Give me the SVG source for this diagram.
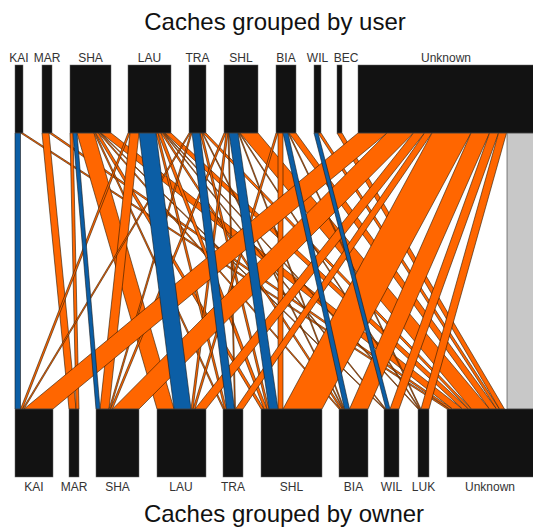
<svg xmlns="http://www.w3.org/2000/svg" width="533" height="527" viewBox="0 0 533 527">
<style>
.o{fill:#FF6600;stroke:#2a1800;stroke-width:0.6}
.b{fill:#0C5EA5;stroke:#1a1a1a;stroke-width:0.6}
.g{fill:#C8C8C8;stroke:#333;stroke-width:0.6}
.bar{fill:#121212;stroke:#666;stroke-width:0.5}
.lbl{font-family:"Liberation Sans",Arial,sans-serif;font-size:12px;fill:#333;text-anchor:middle}
.ttl{font-family:"Liberation Sans",Arial,sans-serif;font-size:24px;fill:#111;text-anchor:middle}
</style>
<rect width="533" height="527" fill="#fff"/>
<text class="ttl" x="275" y="30">Caches grouped by user</text>
<text class="ttl" x="284" y="522">Caches grouped by owner</text>
<g id="connectors">
<polygon class="g" points="507,133 536,133 536,409 507,409"/>
<polygon class="o" points="20.5,133 23,133 449.5,409 447,409"/>
<polygon class="o" points="42,133 49,133 76,409 69,409"/>
<polygon class="o" points="49,133 52,133 452.5,409 449.5,409"/>
<polygon class="o" points="70,133 73,133 79,409 76,409"/>
<polygon class="o" points="77,133 94,133 174,409 157,409"/>
<polygon class="o" points="94,133 95.5,133 224.5,409 223,409"/>
<polygon class="o" points="95.5,133 98.5,133 264,409 261,409"/>
<polygon class="o" points="98.5,133 100,133 340.5,409 339,409"/>
<polygon class="o" points="100,133 101,133 385,409 384,409"/>
<polygon class="o" points="101,133 111,133 462.5,409 452.5,409"/>
<polygon class="o" points="128,133 130,133 22.5,409 20.5,409"/>
<polygon class="o" points="130,133 139,133 109,409 100,409"/>
<polygon class="o" points="156,133 158,133 226.5,409 224.5,409"/>
<polygon class="o" points="158,133 161,133 267,409 264,409"/>
<polygon class="o" points="161,133 163,133 342.5,409 340.5,409"/>
<polygon class="o" points="163,133 164,133 386,409 385,409"/>
<polygon class="o" points="164,133 165,133 419,409 418,409"/>
<polygon class="o" points="165,133 171,133 468.5,409 462.5,409"/>
<polygon class="o" points="189,133 190.5,133 24,409 22.5,409"/>
<polygon class="o" points="190.5,133 192,133 110.5,409 109,409"/>
<polygon class="o" points="200,133 202,133 269,409 267,409"/>
<polygon class="o" points="202,133 203,133 343.5,409 342.5,409"/>
<polygon class="o" points="203,133 206,133 471.5,409 468.5,409"/>
<polygon class="o" points="224,133 226,133 112.5,409 110.5,409"/>
<polygon class="o" points="226,133 228,133 193,409 191,409"/>
<polygon class="o" points="228,133 229,133 235.5,409 234.5,409"/>
<polygon class="o" points="238,133 239,133 344.5,409 343.5,409"/>
<polygon class="o" points="239,133 240,133 420,409 419,409"/>
<polygon class="o" points="240,133 258,133 489.5,409 471.5,409"/>
<polygon class="o" points="276,133 278,133 195,409 193,409"/>
<polygon class="o" points="278,133 283,133 283,409 278,409"/>
<polygon class="o" points="288,133 289,133 421,409 420,409"/>
<polygon class="o" points="289,133 296,133 496.5,409 489.5,409"/>
<polygon class="o" points="318,133 321,133 499.5,409 496.5,409"/>
<polygon class="o" points="337,133 342,133 504.5,409 499.5,409"/>
<polygon class="o" points="358,133 387,133 53,409 24,409"/>
<polygon class="o" points="387,133 413.5,133 139,409 112.5,409"/>
<polygon class="o" points="413.5,133 424.5,133 206,409 195,409"/>
<polygon class="o" points="424.5,133 432,133 243,409 235.5,409"/>
<polygon class="o" points="432,133 471,133 322,409 283,409"/>
<polygon class="o" points="471,133 489.5,133 368,409 349.5,409"/>
<polygon class="o" points="489.5,133 498.5,133 399,409 390,409"/>
<polygon class="o" points="498.5,133 506.5,133 429,409 421,409"/>
<polygon class="b" points="15,133 20.5,133 20.5,409 15,409"/>
<polygon class="b" points="73,133 77,133 100,409 96,409"/>
<polygon class="b" points="139,133 156,133 191,409 174,409"/>
<polygon class="b" points="192,133 200,133 234.5,409 226.5,409"/>
<polygon class="b" points="229,133 238,133 278,409 269,409"/>
<polygon class="b" points="283,133 288,133 349.5,409 344.5,409"/>
<polygon class="b" points="314,133 318,133 390,409 386,409"/>
</g>
<g id="top-KAI"><rect class="bar" x="15" y="65" width="8" height="68"/><text class="lbl" x="19" y="62">KAI</text></g>
<g id="top-MAR"><rect class="bar" x="42" y="65" width="10" height="68"/><text class="lbl" x="47" y="62">MAR</text></g>
<g id="top-SHA"><rect class="bar" x="70" y="65" width="41" height="68"/><text class="lbl" x="90.5" y="62">SHA</text></g>
<g id="top-LAU"><rect class="bar" x="128" y="65" width="43" height="68"/><text class="lbl" x="149.5" y="62">LAU</text></g>
<g id="top-TRA"><rect class="bar" x="189" y="65" width="17" height="68"/><text class="lbl" x="197.5" y="62">TRA</text></g>
<g id="top-SHL"><rect class="bar" x="224" y="65" width="34" height="68"/><text class="lbl" x="241" y="62">SHL</text></g>
<g id="top-BIA"><rect class="bar" x="276" y="65" width="20" height="68"/><text class="lbl" x="286" y="62">BIA</text></g>
<g id="top-WIL"><rect class="bar" x="314" y="65" width="7" height="68"/><text class="lbl" x="317.5" y="62">WIL</text></g>
<g id="top-BEC"><rect class="bar" x="337" y="65" width="5" height="68"/><text class="lbl" x="346" y="62">BEC</text></g>
<g id="top-Unknown"><rect class="bar" x="358" y="65" width="180" height="68"/><text class="lbl" x="446" y="62">Unknown</text></g>
<g id="bottom-KAI"><rect class="bar" x="15" y="409" width="38" height="68"/><text class="lbl" x="34" y="491">KAI</text></g>
<g id="bottom-MAR"><rect class="bar" x="69" y="409" width="10" height="68"/><text class="lbl" x="74" y="491">MAR</text></g>
<g id="bottom-SHA"><rect class="bar" x="96" y="409" width="43" height="68"/><text class="lbl" x="117.5" y="491">SHA</text></g>
<g id="bottom-LAU"><rect class="bar" x="157" y="409" width="49" height="68"/><text class="lbl" x="181" y="491">LAU</text></g>
<g id="bottom-TRA"><rect class="bar" x="223" y="409" width="20" height="68"/><text class="lbl" x="233" y="491">TRA</text></g>
<g id="bottom-SHL"><rect class="bar" x="261" y="409" width="61" height="68"/><text class="lbl" x="291.5" y="491">SHL</text></g>
<g id="bottom-BIA"><rect class="bar" x="339" y="409" width="29" height="68"/><text class="lbl" x="353.5" y="491">BIA</text></g>
<g id="bottom-WIL"><rect class="bar" x="384" y="409" width="15" height="68"/><text class="lbl" x="391.5" y="491">WIL</text></g>
<g id="bottom-LUK"><rect class="bar" x="418" y="409" width="11" height="68"/><text class="lbl" x="423.5" y="491">LUK</text></g>
<g id="bottom-Unknown"><rect class="bar" x="447" y="409" width="91" height="68"/><text class="lbl" x="490" y="491">Unknown</text></g>
</svg>
